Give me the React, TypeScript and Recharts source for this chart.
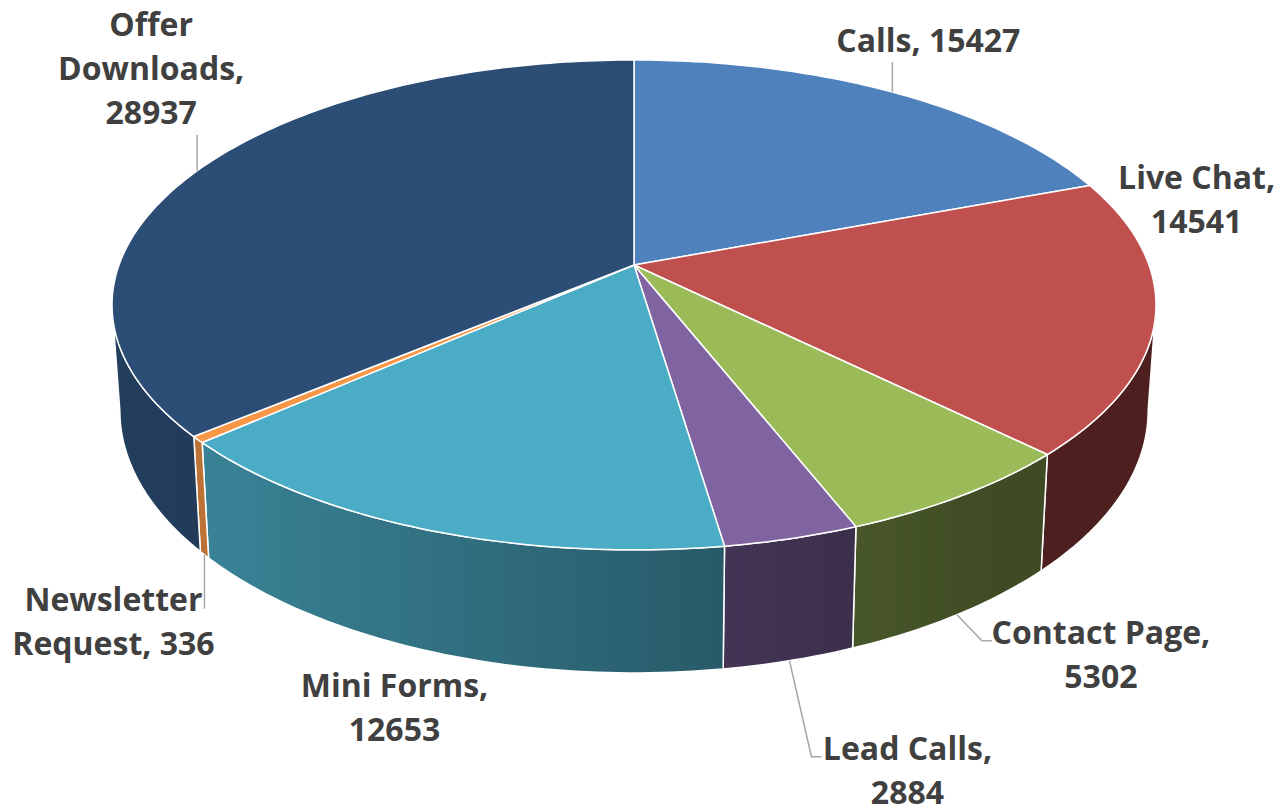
import { PieChart, Pie } from "recharts";

const categories = [
  "Calls",
  "Live Chat",
  "Contact Page",
  "Lead Calls",
  "Mini Forms",
  "Newsletter Request",
  "Offer Downloads",
];
const values = [15427, 14541, 5302, 2884, 12653, 336, 28937];
const colors = ["#4F81BD", "#C0504D", "#9BBB59", "#8064A2", "#4BACC6", "#F79646", "#2C4D75"];

const data = categories.map((name, i) => ({ name, value: values[i], fill: colors[i] }));

// fake 3d: perspective ellipse + side wall
const PERSP = 0.163;
const SQUASH = 0.463;
const DEPTH = 0.2;
const BOTTOM_SCALE = 0.985; // bottom rim a touch narrower (perspective)
const EDGE = (Math.asin(PERSP) * 180) / Math.PI;
const FRONT: [number, number] = [-180 + EDGE, -EDGE];

const W = 1276;
const H = 806;

// label placement relative to the slice anchor: text dx/dy, leader end, elbow
const LABEL_LAYOUT = [
  { dx: 36, dy: -40, line: [0, -30], elbow: 0 },
  { dx: 49, dy: -234, line: null, elbow: 0 },
  { dx: 144, dy: 29, line: [25, 26], elbow: 10 },
  { dx: 118, dy: 99, line: [22, 96], elbow: 10 },
  { dx: -35, dy: 46, line: null, elbow: 0 },
  { dx: -91, dy: 56, line: [0, 54], elbow: 0 },
  { dx: -46, dy: -135, line: [0, -36], elbow: 0 },
];

function pt(cx: number, cy: number, r: number, deg: number, drop: number) {
  const t = (deg * Math.PI) / 180;
  const w = 1 + PERSP * Math.sin(t);
  const k = drop > 0 ? BOTTOM_SCALE : 1;
  return [cx + (k * r * Math.cos(t)) / w, cy + (drop - r * SQUASH * Math.sin(t)) / w];
}

function arc(cx: number, cy: number, r: number, from: number, to: number, drop: number) {
  const n = Math.max(2, Math.ceil(Math.abs(to - from)));
  const out: number[][] = [];
  for (let i = 0; i <= n; i++) out.push(pt(cx, cy, r, from + ((to - from) * i) / n, drop));
  return out;
}

const toPath = (pts: number[][]) => pts.map((p, i) => `${i ? "L" : "M"}${p[0].toFixed(2)},${p[1].toFixed(2)}`).join(" ");

function isFront(deg: number) {
  for (const k of [-360, 0, 360]) {
    if (deg >= FRONT[0] + k && deg <= FRONT[1] + k) return true;
  }
  return false;
}

function wrap(text: string, max = 13) {
  const lines: string[] = [];
  let cur = "";
  for (const word of text.split(" ")) {
    if (cur && (cur + " " + word).length > max) {
      lines.push(cur);
      cur = word;
    } else cur = cur ? cur + " " + word : word;
  }
  if (cur) lines.push(cur);
  return lines;
}

function Slice3D(props: any) {
  const { cx, cy, outerRadius, startAngle, endAngle, fill } = props;
  const r = outerRadius;
  const depth = r * DEPTH;
  const lo = Math.min(startAngle, endAngle);
  const hi = Math.max(startAngle, endAngle);
  const gid = `shade-${String(props.name).replace(/\s/g, "")}`;

  const sides: string[] = [];
  for (const k of [-360, 0, 360]) {
    const a = Math.max(lo, FRONT[0] + k);
    const b = Math.min(hi, FRONT[1] + k);
    if (b > a) {
      const pts = [...arc(cx, cy, r, b, a, 0), ...arc(cx, cy, r, a, b, depth)];
      sides.push(toPath(pts) + " Z");
    }
  }

  const top = `M${cx},${cy} ` + toPath(arc(cx, cy, r, startAngle, endAngle, 0)).replace(/^M/, "L") + " Z";

  return (
    <g>
      <defs>
        <linearGradient id={gid} gradientUnits="userSpaceOnUse" x1={112} y1={0} x2={1000} y2={0}>
          <stop offset="0" stopColor="#000" stopOpacity={0.2} />
          <stop offset="1" stopColor="#000" stopOpacity={0.6} />
        </linearGradient>
      </defs>
      {sides.map((d, i) => (
        <g key={i}>
          <path d={d} fill={fill} />
          <path d={d} fill={`url(#${gid})`} stroke="#fff" strokeWidth={1.5} strokeLinejoin="round" />
        </g>
      ))}
      <path d={top} fill={fill} stroke="#fff" strokeWidth={1.5} strokeLinejoin="round" />
    </g>
  );
}

function SliceLabel(props: any) {
  const { cx, cy, outerRadius, midAngle, name, value } = props;
  const i = typeof props.index === "number" ? props.index : categories.indexOf(name);
  const lay = LABEL_LAYOUT[i];
  const front = isFront(midAngle);
  const [ax, ay] = pt(cx, cy, outerRadius, midAngle, front ? outerRadius * DEPTH : 0);
  const lines = wrap(`${name}, ${value}`);
  let lead = null;
  if (lay.line) {
    const ex = ax + lay.line[0];
    const ey = ay + lay.line[1];
    lead = (
      <polyline
        points={`${ax},${ay} ${ex},${ey} ${ex + lay.elbow},${ey}`}
        fill="none"
        stroke="#A6A6A6"
        strokeWidth={1.5}
      />
    );
  }
  return (
    <g>
      {lead}
      {lines.map((t, k) => (
        <text
          key={k}
          x={ax + lay.dx}
          y={ay + lay.dy + k * 44}
          textAnchor="middle"
          fill="#404040"
          fontFamily="'Open Sans', sans-serif"
          fontWeight={700}
          fontSize={32}
        >
          {t}
        </text>
      ))}
    </g>
  );
}

export default function App() {
  return (
    <div style={{ position: "absolute", left: 0, top: 0, width: W, height: H, background: "#fff" }}>
      <PieChart width={W} height={H} margin={{ top: 0, right: 0, bottom: 0, left: 0 }}>
        <Pie
          data={data}
          dataKey="value"
          nameKey="name"
          cx={634}
          cy={265}
          outerRadius={515}
          startAngle={90}
          endAngle={-270}
          isAnimationActive={false}
          shape={(p: any) => <Slice3D {...p} />}
          label={(p: any) => <SliceLabel {...p} />}
          labelLine={false}
        />
      </PieChart>
    </div>
  );
}
